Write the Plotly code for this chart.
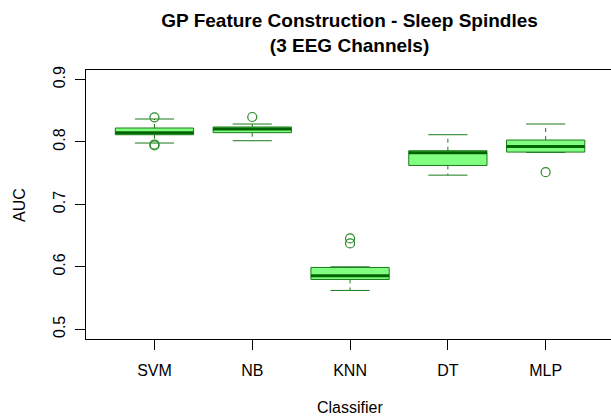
import plotly.graph_objects as go

classifiers = ["SVM", "NB", "KNN", "DT", "MLP"]
lower_whisker = [0.7983, 0.8020, 0.5622, 0.7469, 0.7833]
q1 = [0.8116, 0.8149, 0.5798, 0.7624, 0.7838]
median = [0.8146, 0.8208, 0.5857, 0.7827, 0.7929]
q3 = [0.8224, 0.8240, 0.5990, 0.7860, 0.8031]
upper_whisker = [0.8368, 0.8288, 0.6000, 0.8116, 0.8288]
outliers = [[0.8395, 0.7960, 0.7945], [0.8400], [0.6455, 0.6375], [], [0.7517]]

y_ticks = [0.5, 0.6, 0.7, 0.8, 0.9]

FILL = "#80FF80"
DARK = "#006400"
BORDER = "#1a7a1a"
FONT = "Liberation Sans, Arial, sans-serif"
BOX_W = 0.8
CAP_W = 0.4

fig = go.Figure()

for i, name in enumerate(classifiers):
    x = i + 1
    # dashed whiskers
    fig.add_trace(go.Scatter(
        x=[x, x, None, x, x],
        y=[q3[i], upper_whisker[i], None, q1[i], lower_whisker[i]],
        mode="lines", line=dict(color=BORDER, width=1, dash="4px,4px"),
        hoverinfo="skip", showlegend=False))
    # staples
    fig.add_trace(go.Scatter(
        x=[x - CAP_W / 2, x + CAP_W / 2, None, x - CAP_W / 2, x + CAP_W / 2],
        y=[upper_whisker[i], upper_whisker[i], None, lower_whisker[i], lower_whisker[i]],
        mode="lines", line=dict(color=BORDER, width=1),
        hoverinfo="skip", showlegend=False))
    # box
    fig.add_trace(go.Scatter(
        x=[x - BOX_W / 2, x + BOX_W / 2, x + BOX_W / 2, x - BOX_W / 2, x - BOX_W / 2],
        y=[q1[i], q1[i], q3[i], q3[i], q1[i]],
        mode="lines", fill="toself", fillcolor=FILL,
        line=dict(color=BORDER, width=1),
        name=name, showlegend=False))
    # median
    fig.add_trace(go.Scatter(
        x=[x - BOX_W / 2, x + BOX_W / 2], y=[median[i], median[i]],
        mode="lines", line=dict(color=DARK, width=3),
        hoverinfo="skip", showlegend=False))
    # outliers
    if outliers[i]:
        fig.add_trace(go.Scatter(
            x=[x] * len(outliers[i]), y=outliers[i], mode="markers",
            marker=dict(symbol="circle-open", size=9, color="#2a8a2a",
                        line=dict(width=1.2)),
            showlegend=False))

fig.update_layout(
    width=611, height=417,
    margin=dict(l=86, r=0, t=70, b=78),
    paper_bgcolor="white", plot_bgcolor="white",
    font=dict(family=FONT, size=16, color="black"),
    title=dict(text="<b>GP Feature Construction - Sleep Spindles<br>(3 EEG Channels)</b>",
               font=dict(family=FONT, size=19, color="black"),
               x=0.502, xref="paper", xanchor="center",
               y=1 - 27 / 417, yref="container", yanchor="top"),
    showlegend=False,
)

fig.update_xaxes(
    range=[0.3, 5.668], tickmode="array",
    tickvals=list(range(1, len(classifiers) + 1)), ticktext=classifiers,
    ticks="outside", ticklen=10, tickcolor="black", tickwidth=1,
    showline=True, linecolor="black", linewidth=1, mirror=True,
    showgrid=False, zeroline=False, ticklabelstandoff=7,
    tickfont=dict(family=FONT, size=16, color="black"),
)
fig.update_yaxes(
    range=[0.4844, 0.9153], tickmode="array", tickvals=y_ticks,
    ticktext=[str(v) for v in y_ticks], tickangle=-90,
    ticks="outside", ticklen=10, tickcolor="black", tickwidth=1,
    showline=True, linecolor="black", linewidth=1,
    showgrid=False, zeroline=False, ticklabelstandoff=4,
    tickfont=dict(family=FONT, size=16, color="black"),
)

fig.add_annotation(text="Classifier", xref="paper", yref="paper",
                   x=(349.5 - 86) / 525, y=-(407 - 339) / 269,
                   xanchor="center", yanchor="middle", showarrow=False,
                   font=dict(family=FONT, size=16, color="black"))
fig.add_annotation(text="AUC", xref="paper", yref="paper",
                   x=-(86 - 19) / 525, y=(339 - 205) / 269, textangle=-90,
                   xanchor="center", yanchor="middle", showarrow=False,
                   font=dict(family=FONT, size=16, color="black"))

fig.write_html("out.html",
               config={"displayModeBar": False},
               post_script="document.body.style.margin='0px';"
                           "document.body.style.overflow='hidden';")
